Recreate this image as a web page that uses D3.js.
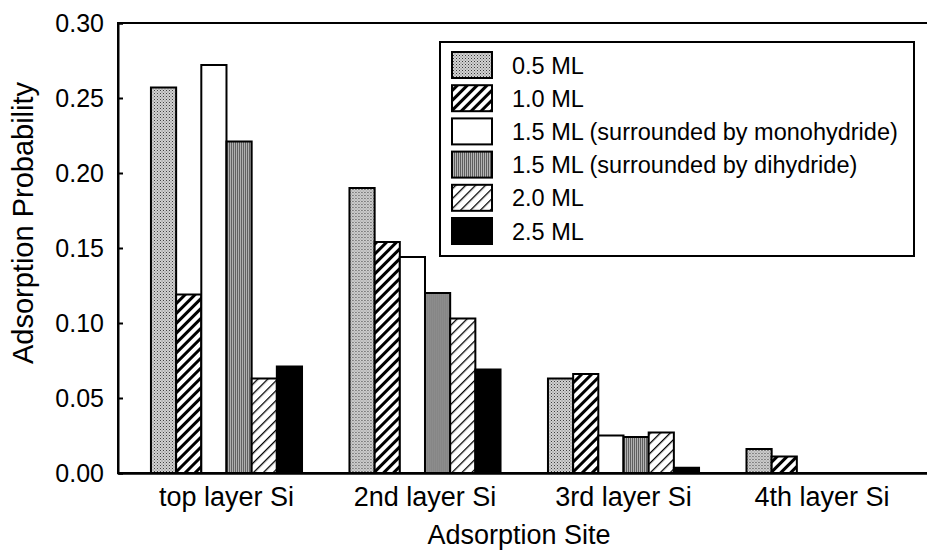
<!DOCTYPE html>
<html>
<head>
<meta charset="utf-8">
<script src="https://cdn.jsdelivr.net/npm/d3@7"></script>
<style>
  html, body { margin: 0; padding: 0; background: #fff; }
  svg { display: block; }
  text { font-family: "Liberation Sans", Arial, Helvetica, sans-serif; fill: #000; }
</style>
</head>
<body>
<svg id="chart" width="927" height="550"></svg>
<script>
// ---- data ----
const categories = ["top layer Si", "2nd layer Si", "3rd layer Si", "4th layer Si"];
const seriesNames = [
  "0.5 ML",
  "1.0 ML",
  "1.5 ML (surrounded by monohydride)",
  "1.5 ML (surrounded by dihydride)",
  "2.0 ML",
  "2.5 ML"
];
const s05  = [0.257, 0.190, 0.063, 0.016];
const s10  = [0.119, 0.154, 0.066, 0.011];
const s15m = [0.272, 0.144, 0.025, 0];
const s15d = [0.221, 0.120, 0.024, 0];
const s20  = [0.063, 0.103, 0.027, 0];
const s25  = [0.071, 0.069, 0.0035, 0];
const seriesValues = [s05, s10, s15m, s15d, s20, s25];
const yTicks = [0.00, 0.05, 0.10, 0.15, 0.20, 0.25, 0.30];
const xTitle = "Adsorption Site";
const yTitle = "Adsorption Probability";

// ---- layout ----
const svg = d3.select("#chart");
const plotL = 118, plotR = 930.5, plotT = 23, plotB = 473;

const x0 = d3.scaleBand().domain(categories).range([plotL, plotR])
  .paddingInner(0.239).paddingOuter(0.166);
const x1 = d3.scaleBand().domain(d3.range(seriesNames.length)).range([0, x0.bandwidth()]).padding(0);
const y = d3.scaleLinear().domain([0, 0.30]).range([plotB, plotT]);

// ---- patterns ----
const defs = svg.append("defs");
// light stipple
const p0 = defs.append("pattern").attr("id", "pat0").attr("patternUnits", "userSpaceOnUse")
  .attr("width", 3).attr("height", 3);
p0.append("rect").attr("width", 3).attr("height", 3).attr("fill", "#d2d2d2");
p0.append("rect").attr("x", 0).attr("y", 0).attr("width", 1).attr("height", 1).attr("fill", "#3a3a3a");
p0.append("rect").attr("x", 1.5).attr("y", 1.5).attr("width", 1).attr("height", 1).attr("fill", "#707070");
// thick hatch
const p1 = defs.append("pattern").attr("id", "pat1").attr("patternUnits", "userSpaceOnUse")
  .attr("width", 7).attr("height", 7).attr("patternTransform", "rotate(45)");
p1.append("rect").attr("width", 7).attr("height", 7).attr("fill", "#fff");
p1.append("rect").attr("x", 0).attr("y", 0).attr("width", 3).attr("height", 7).attr("fill", "#000");
// dark stipple (vertical texture)
const p3 = defs.append("pattern").attr("id", "pat3").attr("patternUnits", "userSpaceOnUse")
  .attr("width", 2).attr("height", 2);
p3.append("rect").attr("width", 2).attr("height", 2).attr("fill", "#b4b4b4");
p3.append("rect").attr("x", 0).attr("y", 0).attr("width", 1).attr("height", 2).attr("fill", "#5e5e5e");
// thin hatch
const p4 = defs.append("pattern").attr("id", "pat4").attr("patternUnits", "userSpaceOnUse")
  .attr("width", 7).attr("height", 7).attr("patternTransform", "rotate(45)");
p4.append("rect").attr("width", 7).attr("height", 7).attr("fill", "#fff");
p4.append("rect").attr("x", 0).attr("y", 0).attr("width", 1.3).attr("height", 7).attr("fill", "#000");

const fills = ["url(#pat0)", "url(#pat1)", "#ffffff", "url(#pat3)", "url(#pat4)", "#000000"];

// ---- bars ----
const groups = svg.append("g").selectAll("g").data(categories).join("g")
  .attr("transform", d => `translate(${x0(d)},0)`);
groups.selectAll("rect")
  .data((c, ci) => seriesValues.map((vals, si) => ({ si, v: vals[ci] })).filter(d => d.v > 0))
  .join("rect")
  .attr("x", d => x1(d.si))
  .attr("width", x1.bandwidth())
  .attr("y", d => y(d.v))
  .attr("height", d => y(0) - y(d.v))
  .attr("fill", d => fills[d.si])
  .attr("stroke", "#000")
  .attr("stroke-width", 2);

// ---- frame ----
svg.append("rect").attr("x", plotL).attr("y", plotT).attr("width", plotR - plotL).attr("height", plotB - plotT)
  .attr("fill", "none").attr("stroke", "#000").attr("stroke-width", 2);

// ---- axes ----
const yAxis = svg.append("g").attr("transform", `translate(${plotL},0)`)
  .call(d3.axisLeft(y).tickValues(yTicks).tickFormat(d3.format(".2f")).tickSize(-5).tickPadding(14));
yAxis.select(".domain").attr("stroke-width", 2);
yAxis.selectAll(".tick line").attr("stroke-width", 2);
yAxis.selectAll("text").style("font-size", "25px")
  .style("font-family", "'Liberation Sans', Arial, sans-serif").attr("fill", "#000");

const xAxis = svg.append("g").attr("transform", `translate(0,${plotB})`)
  .call(d3.axisBottom(x0).tickSize(0).tickPadding(14));
xAxis.select(".domain").attr("stroke-width", 2.5);
xAxis.selectAll("text").style("font-size", "27px")
  .style("font-family", "'Liberation Sans', Arial, sans-serif").attr("fill", "#000");

// ---- titles ----
svg.append("text").attr("x", 519).attr("y", 544).attr("text-anchor", "middle")
  .style("font-size", "27px").text(xTitle);
svg.append("text").attr("transform", "translate(33,223) rotate(-90)").attr("text-anchor", "middle")
  .style("font-size", "29px").text(yTitle);

// ---- legend ----
const lg = svg.append("g");
lg.append("rect").attr("x", 440).attr("y", 42).attr("width", 474).attr("height", 214)
  .attr("fill", "#fff").attr("stroke", "#000").attr("stroke-width", 2);
const rows = lg.selectAll("g.row").data(seriesNames).join("g").attr("class", "row")
  .attr("transform", (d, i) => `translate(0,${52 + i * 33.2})`);
rows.append("rect").attr("x", 452).attr("y", 0).attr("width", 40).attr("height", 26)
  .attr("fill", (d, i) => fills[i]).attr("stroke", "#000").attr("stroke-width", 2);
rows.append("text").attr("x", 512).attr("y", 21.5).style("font-size", "23.5px").text(d => d);
</script>
</body>
</html>
